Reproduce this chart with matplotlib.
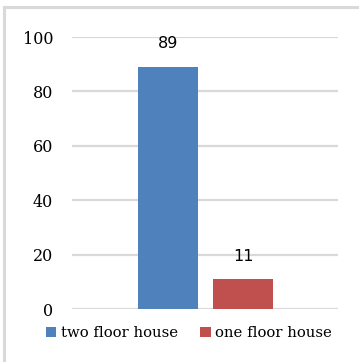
import matplotlib
matplotlib.use("Agg")
import matplotlib.pyplot as plt
from matplotlib.lines import Line2D

series_names = ["two floor house", "one floor house"]
series_values = [89, 11]
series_colors = ["#4f81bd", "#c0504d"]
y_ticks = [0, 20, 40, 60, 80, 100]

W, H = 359, 362
fig = plt.figure(figsize=(W / 100, H / 100), dpi=100)

# outer chart frame (left and top edges fall inside the canvas)
frame_kw = dict(transform=fig.transFigure, color="#d9d9d9", linewidth=2.2)
fig.lines.append(Line2D([3.5 / W, 3.5 / W], [0, 1 - 6.5 / H], **frame_kw))
fig.lines.append(Line2D([3.5 / W, 1], [1 - 6.5 / H, 1 - 6.5 / H], **frame_kw))

ax = fig.add_axes([72 / W, 1 - 309 / H, (338 - 72) / W, (309 - 37) / H])
ax.set_xlim(0, 1)
ax.set_ylim(0, 100)

bar_w = 60 / 266
offsets = [0.361, 0.643]
for name, val, col, x in zip(series_names, series_values, series_colors, offsets):
    ax.bar(x, val, width=bar_w, color=col, label=name, zorder=3)
    ax.text(x, val + 100 * 23 / 272, f"{val}", ha="center", va="center",
            fontsize=11.5, family="DejaVu Sans", color="#000000")

ax.set_yticks(y_ticks)
ax.set_yticklabels([str(t) for t in y_ticks], family="DejaVu Serif", fontsize=11.5)
ax.tick_params(axis="y", length=0, pad=13.5)
ax.set_xticks([])
ax.yaxis.grid(True, color="#d9d9d9", linewidth=1.6, zorder=0)
for s in ax.spines.values():
    s.set_visible(False)

leg = fig.legend(loc="center", bbox_to_anchor=(189 / W, 1 - 333 / H), ncol=2,
                 frameon=False, handlelength=0.7, handleheight=0.7,
                 handletextpad=0.3, columnspacing=1.5,
                 prop={"family": "DejaVu Serif", "size": 10.7})

fig.savefig("out.png", dpi=100)
